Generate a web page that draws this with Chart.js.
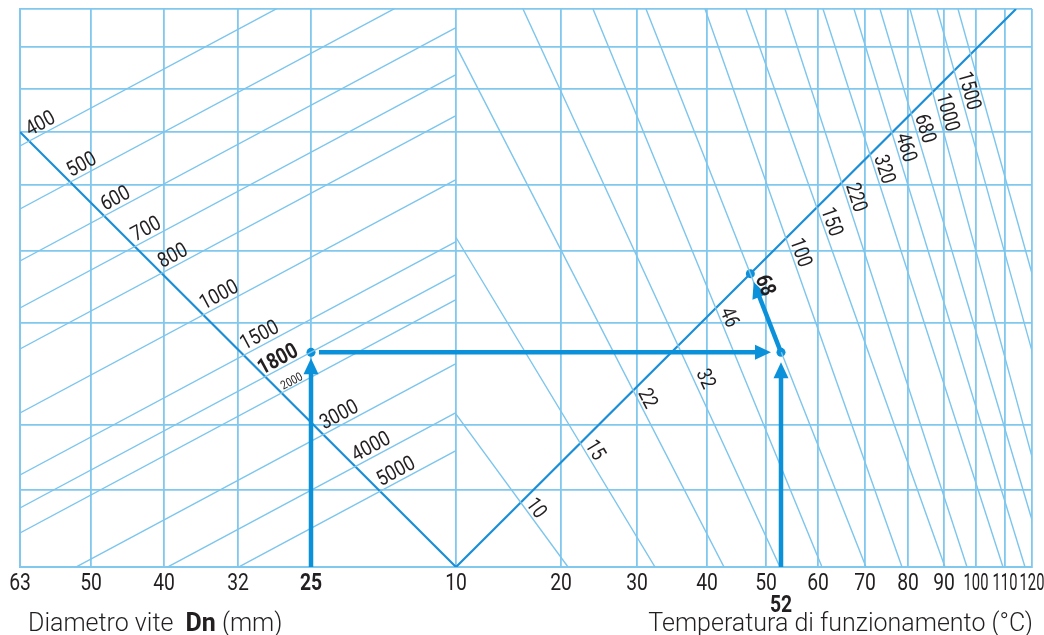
<!DOCTYPE html>
<html lang="it">
<head>
<meta charset="UTF-8">
<title>Nomogramma viscosità</title>
<style>
  html, body { margin: 0; padding: 0; background: #fff; }
  canvas { display: block; }
</style>
</head>
<body>
<canvas id="chart" width="1044" height="635"></canvas>
<script src="https://cdn.jsdelivr.net/npm/chart.js"></script>
<script>
// nomogram units: x 0..1012 across the plot, y 0..558 from bottom to top
const xTickPos = [0, 71, 144, 218, 291, 436, 541, 617, 687, 746, 798, 845, 888, 924, 956, 985, 1012];
const xTickLabels = ['63', '50', '40', '32', '25', '10', '20', '30', '40', '50', '60', '70', '80', '90', '100', '110', '120'];
const yGridPos = [0, 77, 142, 244, 316, 382, 435, 478, 520, 558];

// speed lines (left half): where each one meets the left edge, all parallel
const speedLabels = ['400', '500', '600', '700', '800', '1000', '1500', '1800', '2000', '3000', '4000', '5000'];
const speedEdgeY = [421, 358, 306, 259, 218, 154, 92, 59, 34, -30, -79, -117];
const speedSlope = 0.535;

// viscosity grades (right half): x where each line meets the top and the bottom edge
// (the last one carries no label in the print)
const gradeLabels = ['10', '15', '22', '32', '46', '68', '100', '150', '220', '320', '460', '680', '1000', '1500', ''];
const gradeTopX = [139, 298, 417, 503, 573, 626, 685, 726, 765, 803, 834, 860, 890, 917, 938];
const gradeBotX = [548, 635, 704, 760, 802, 846, 882, 925, 947, 983, 1005, 1026, 1042, 1072, 1094];

// the two pivot lines meeting at Dn/temperature 10
const dnPivot = [{ x: 0, y: 435 }, { x: 436, y: 0 }];
const tempPivot = [{ x: 436, y: 0 }, { x: 996, y: 558 }];

// worked example: Dn 25, 1800 rpm, 52 °C -> 68
const exDn = 291;
const exTemp = 761;
const exSpeed = '1800';
const exGrade = '68';

const gridColor = '#80c8ee';
const thinColor = '#7cc5ed';
const mainColor = '#1a8ed6';
const arrowColor = '#0b91d9';
const textColor = '#231f20';

function cross(a, b, c, d) {
    const d1x = b.x - a.x, d1y = b.y - a.y, d2x = d.x - c.x, d2y = d.y - c.y;
    const den = d1x * d2y - d1y * d2x;
    const t = ((c.x - a.x) * d2y - (c.y - a.y) * d2x) / den;
    return { x: a.x + t * d1x, y: a.y + t * d1y };
}

function speedLine(i) {
    return [{ x: 0, y: speedEdgeY[i] }, { x: 436, y: speedEdgeY[i] + speedSlope * 436 }];
}

function gradeLine(i) {
    const top = gradeTopX[i], bot = gradeBotX[i];
    let start = { x: top, y: 558 };
    if (top < 436) start = { x: 436, y: 558 * (436 - bot) / (top - bot) };
    return [start, { x: bot, y: 0 }];
}

const exSpeedY = speedEdgeY[speedLabels.indexOf(exSpeed)] + speedSlope * exDn;
const gi = gradeLabels.indexOf(exGrade);
const exGradePt = cross(gradeLine(gi)[0], gradeLine(gi)[1], tempPivot[0], tempPivot[1]);

const arrows = [
    { from: { x: exDn, y: 0 }, to: { x: exDn, y: exSpeedY }, gapStart: 0, gapEnd: 6 },
    { from: { x: exDn, y: exSpeedY }, to: { x: exTemp, y: exSpeedY }, gapStart: 8, gapEnd: 10 },
    { from: { x: exTemp, y: 0 }, to: { x: exTemp, y: exSpeedY }, gapStart: 0, gapEnd: 10 },
    { from: { x: exTemp, y: exSpeedY }, to: exGradePt, gapStart: 0, gapEnd: 9 }
];

const lineSet = (data, color, width) => ({
    data: data, showLine: true, borderColor: color, borderWidth: width,
    pointRadius: 0, tension: 0, fill: false
});

const datasets = [];
speedLabels.forEach((l, i) => datasets.push(lineSet(speedLine(i), thinColor, 1.4)));
gradeLabels.forEach((l, i) => datasets.push(lineSet(gradeLine(i), thinColor, 1.4)));
datasets.push(lineSet(dnPivot, mainColor, 2.2));
datasets.push(lineSet(tempPivot, mainColor, 2.2));
datasets.push({
    data: [{ x: exDn, y: exSpeedY }, { x: exTemp, y: exSpeedY }, exGradePt],
    showLine: false, pointRadius: 4.5, pointBackgroundColor: arrowColor, pointBorderWidth: 0
});

// text squeezed horizontally, the print uses a condensed face
function drawText(ctx, px, py, ang, text, font, sx, g, p, align) {
    ctx.save();
    ctx.translate(px, py);
    ctx.rotate(ang);
    ctx.scale(sx, 1);
    ctx.font = font;
    ctx.fillStyle = textColor;
    ctx.textAlign = align || 'left';
    ctx.textBaseline = 'alphabetic';
    ctx.fillText(text, g / sx, -p);
    ctx.restore();
}

const nomoPlugin = {
    id: 'nomo',
    afterDatasetsDraw(chart) {
        const { ctx, scales: { x, y } } = chart;
        const px = pt => ({ x: x.getPixelForValue(pt.x), y: y.getPixelForValue(pt.y) });

        // arrows of the example
        ctx.save();
        ctx.strokeStyle = arrowColor;
        ctx.fillStyle = arrowColor;
        ctx.lineWidth = 4.5;
        arrows.forEach(a => {
            const s = px(a.from), e = px(a.to);
            const len = Math.hypot(e.x - s.x, e.y - s.y);
            const ux = (e.x - s.x) / len, uy = (e.y - s.y) / len;
            const tip = { x: e.x - ux * a.gapEnd, y: e.y - uy * a.gapEnd };
            const headLen = 16, headW = 7.5;
            const base = { x: tip.x - ux * headLen, y: tip.y - uy * headLen };
            ctx.beginPath();
            ctx.moveTo(s.x + ux * a.gapStart, s.y + uy * a.gapStart);
            ctx.lineTo(base.x + ux, base.y + uy);
            ctx.stroke();
            ctx.beginPath();
            ctx.moveTo(tip.x, tip.y);
            ctx.lineTo(base.x - uy * headW, base.y + ux * headW);
            ctx.lineTo(base.x + uy * headW, base.y - ux * headW);
            ctx.closePath();
            ctx.fill();
        });
        ctx.restore();

        // speed labels along the Dn pivot
        speedLabels.forEach((lab, i) => {
            const ln = speedLine(i);
            const c = px(cross(ln[0], ln[1], dnPivot[0], dnPivot[1]));
            const a = px(ln[0]), b = px(ln[1]);
            const ang = Math.atan2(b.y - a.y, b.x - a.x);
            let font = '21px Roboto', sx = 0.86, g = 3, p = 4;
            if (lab === exSpeed) { font = 'bold 22px Roboto'; sx = 0.84; g = -2; p = 3; }
            if (lab === '2000') { font = '12px Roboto'; sx = 0.85; g = 3; p = 2; }
            drawText(ctx, c.x, c.y, ang, lab, font, sx, g, p);
        });

        // grade labels along the temperature pivot
        gradeLabels.forEach((lab, i) => {
            if (!lab) return;
            const ln = gradeLine(i);
            const c = px(cross(ln[0], ln[1], tempPivot[0], tempPivot[1]));
            const a = px(ln[0]), b = px(ln[1]);
            const ang = Math.atan2(b.y - a.y, b.x - a.x);
            let font = '21px Roboto', sx = 0.82, g = 4, p = 3;
            if (lab === exGrade) { font = 'bold 22px Roboto'; g = 6; }
            if (lab === '32') { g = 32; p = 5; }
            drawText(ctx, c.x, c.y, ang, lab, font, sx, g, p);
        });

        // tick labels of the bottom axis
        x.ticks.forEach((t, i) => {
            const lab = xTickLabels[i];
            let font = '23px Roboto', sx = 0.84;
            if (lab === '25') font = 'bold 23px Roboto';
            if (lab.length === 3) sx = 0.64;
            drawText(ctx, x.getPixelForValue(t.value), 590, 0, lab, font, sx, 0, 0, 'center');
        });

        // example temperature under the axis
        drawText(ctx, x.getPixelForValue(exTemp), 612, 0, '52', 'bold 23px Roboto', 0.84, 0, 0, 'center');

        // axis titles
        ctx.save();
        ctx.fillStyle = textColor;
        ctx.textBaseline = 'alphabetic';
        ctx.textAlign = 'left';
        let tx = x.left + 8;
        const ty = 631;
        ctx.font = '300 25px Roboto';
        ctx.fillText('Diametro vite  ', tx, ty);
        tx += ctx.measureText('Diametro vite  ').width;
        ctx.font = 'bold 25px Roboto';
        ctx.fillText('Dn', tx, ty);
        tx += ctx.measureText('Dn').width;
        ctx.font = '300 25px Roboto';
        ctx.fillText(' (mm)', tx, ty);
        ctx.textAlign = 'right';
        ctx.fillText('Temperatura di funzionamento (°C)', x.right + 1, ty);
        ctx.restore();
    }
};

new Chart(document.getElementById('chart'), {
    type: 'scatter',
    data: { datasets: datasets },
    options: {
        responsive: false,
        animation: false,
        events: [],
        devicePixelRatio: 1,
        layout: { padding: { top: 9, right: 12, left: 0, bottom: 0 } },
        plugins: { legend: { display: false }, tooltip: { enabled: false } },
        scales: {
            x: {
                type: 'linear', min: 0, max: 1012,
                afterBuildTicks: s => { s.ticks = xTickPos.map(v => ({ value: v })); },
                afterFit: s => { s.height = 68; s.paddingLeft = 0; s.paddingRight = 0; },
                grid: { color: gridColor, lineWidth: 1.8, drawTicks: false },
                border: { color: gridColor, width: 2 },
                ticks: { display: false }
            },
            y: {
                type: 'linear', min: 0, max: 558,
                afterBuildTicks: s => { s.ticks = yGridPos.map(v => ({ value: v })); },
                afterFit: s => { s.width = 20; },
                grid: { color: gridColor, lineWidth: 1.8, drawTicks: false },
                border: { color: gridColor, width: 2 },
                ticks: { display: false }
            }
        }
    },
    plugins: [nomoPlugin]
});
</script>
</body>
</html>
